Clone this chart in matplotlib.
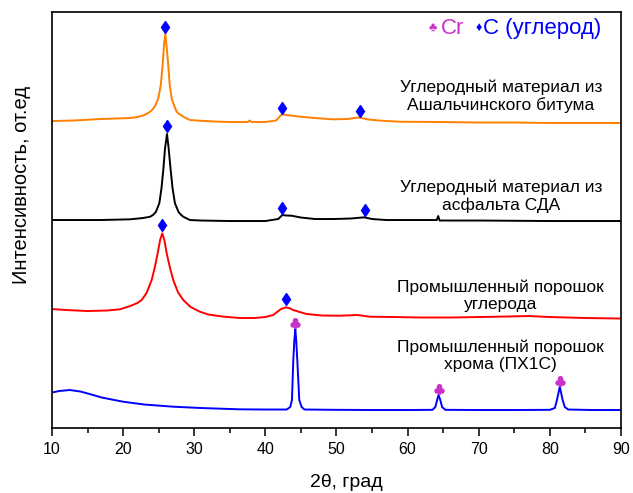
import matplotlib
matplotlib.use("Agg")
import matplotlib.pyplot as plt
from matplotlib.ticker import MultipleLocator

plt.rcParams['font.family'] = ['Liberation Sans', 'DejaVu Sans']

# Углеродный материал из Ашальчинского битума (оранжевая)
x_orange = [10.0, 13.0, 16.75, 19.0, 21.0, 22.0, 22.8, 23.4, 23.8, 24.2, 24.5, 24.95, 25.3,
            25.56, 25.75, 25.93, 26.1, 26.35, 26.55, 26.83, 27.2, 27.53, 27.9, 28.3, 28.8,
            29.4, 30.8, 33.0, 35.0, 37.5, 37.8, 38.1, 40.0, 41.5, 42.1, 42.4, 43.0, 44.9,
            47.0, 49.5, 51.5, 53.0, 53.3, 54.5, 56.0, 58.9, 65.0, 70.0, 75.0, 80.0, 85.0,
            90.0]
y_orange = [307, 307.5, 309, 309.5, 310, 311, 312.5, 314.5, 316.3, 319, 322, 329.7, 343,
            363, 383, 394, 383, 363, 343, 329.7, 322, 316.3, 314, 312, 310,
            308, 307.3, 306.5, 306, 306, 307.5, 306, 306, 307.5, 312, 313.7, 313, 311.3,
            310, 308.7, 309, 310.5, 310.3, 308.5, 307.5, 306.3, 306, 305.5, 305.5, 305, 305,
            305]

# Углеродный материал из асфальта СДА (чёрная)
x_black = [10.0, 13.0, 16.75, 21.0, 22.8, 23.8, 24.2, 24.6, 25.09, 25.4, 25.65, 25.9,
           26.17, 26.4, 26.69, 26.95, 27.29, 27.8, 28.1, 28.46, 29.4, 31.0, 35.0, 40.0,
           41.8, 42.4, 43.0, 43.7, 45.0, 47.0, 49.5, 52.0, 53.9, 55.0, 57.0, 61.8, 64.1,
           64.3, 64.5, 70.0, 80.0, 90.0]
y_black = [208, 208, 208, 208.7, 210, 211.3, 213, 216, 224.7, 240, 258, 280,
           294, 280, 258, 240, 224.7, 216, 213.5, 211.3, 208, 207.5, 207, 207,
           209, 213, 212.5, 212.3, 210.5, 209, 209, 209.5, 210.7, 209, 208, 208, 208,
           212, 207.5, 207.5, 207, 207]

# Промышленный порошок углерода (красная)
x_red = [10.0, 12.0, 15.0, 17.7, 19.56, 21.0, 22.0, 22.61, 23.3, 24.02, 24.5, 24.86,
         25.2, 25.51, 25.8, 26.13, 26.6, 27.05, 27.7, 28.46, 29.5, 30.8, 32.0, 34.0,
         36.4, 38.5, 40.0, 41.1, 42.2, 42.9, 43.5, 43.9, 45.8, 48.0, 50.5, 53.0, 54.7,
         58.0, 62.0, 66.0, 70.0, 74.0, 77.0, 80.0, 85.0, 90.0]
y_red = [119, 118, 117, 117.5, 118.7, 122, 125, 128, 135, 148, 162, 174.7,
         188, 194.7, 188, 174.7, 160, 148, 136, 128, 121, 116.3, 113.5, 111.5,
         110, 110, 111, 113, 119, 120.7, 119.5, 118, 114, 112.5, 112.3, 113, 111.3,
         111, 110.5, 110.5, 111, 111.5, 112, 111, 110, 109.5]

# Промышленный порошок хрома ПХ1С (синяя)
x_blue = [10.0, 11.0, 12.5, 14.0, 15.3, 17.0, 20.0, 23.0, 27.1, 31.0, 36.4, 40.0,
          43.0, 43.5, 43.74, 43.93, 44.08, 44.21, 44.34, 44.49, 44.77, 45.1, 45.5,
          50.0, 55.0, 60.0, 63.5, 63.9, 64.15, 64.35, 64.6, 64.85, 65.3, 70.0, 75.0,
          80.0, 80.7, 81.0, 81.4, 81.8, 82.1, 82.6, 86.0, 90.0]
y_blue = [35.5, 37, 38, 36.5, 34, 30.5, 26.3, 23.5, 21.3, 20, 18.7, 18.5,
          18.5, 21, 28, 68, 88, 98.7, 88, 68, 28, 21, 18.5,
          18.2, 18, 18, 18.2, 21, 28, 33, 28, 21, 18.2, 18, 18,
          18.2, 20, 28, 41.3, 28, 21, 18.5, 18, 18]

# отметки фаз
c_x = [25.93, 42.4, 53.3, 26.17, 42.4, 54.0, 25.51, 42.9]
c_y = [401.3, 320, 317, 302, 220, 218, 203, 128.7]
cr_x = [44.21, 64.35, 81.4]
cr_y = [104.7, 39, 47]

labels = ['Углеродный материал из\nАшальчинского битума',
          'Углеродный материал из\nасфальта СДА',
          'Промышленный порошок\nуглерода',
          'Промышленный порошок\nхрома (ПХ1С)']
label_y = [332, 232, 132, 72]

fig = plt.figure(figsize=(6.33, 4.93), dpi=100)
ax = fig.add_axes([0.0821, 0.1318, 0.8989, 0.8438])

ax.plot(x_orange, y_orange, color='#ff8000', lw=1.4)
ax.plot(x_black, y_black, color='black', lw=1.4)
ax.plot(x_red, y_red, color='#ff0000', lw=1.4)
ax.plot(x_blue, y_blue, color='#0000ff', lw=1.4)

ax.plot(c_x, c_y, 'd', color='#0000ff', ms=6, ls='none')
ax.plot(cr_x, cr_y, marker='$♣$', color='#c832c8', ms=7, ls='none')

for lab, ly in zip(labels, label_y):
    ax.text(73.1, ly, lab, ha='center', va='center', fontsize=12.5, linespacing=1.2)

# легенда фаз
ax.text(0.662, 0.9615, '♣', color='#c832c8', fontsize=9, ha='left', va='center',
        transform=ax.transAxes)
ax.text(0.6837, 0.9615, 'Cr', color='#c832c8', fontsize=16, ha='left', va='center',
        transform=ax.transAxes)
ax.text(0.745, 0.9615, '♦', color='#0000ff', fontsize=9, ha='left', va='center',
        transform=ax.transAxes)
ax.text(0.758, 0.9615, 'C (углерод)', color='#0000ff', fontsize=16, ha='left',
        va='center', transform=ax.transAxes)

ax.set_xlim(10, 90)
ax.set_ylim(0, 416)
ax.set_yticks([])
ax.xaxis.set_major_locator(MultipleLocator(10))
ax.xaxis.set_minor_locator(MultipleLocator(5))
ax.tick_params(axis='x', which='major', direction='out', length=6, width=1.1,
               labelsize=11.5, pad=4)
ax.tick_params(axis='x', which='minor', direction='out', length=3.5, width=1.1)
for sp in ax.spines.values():
    sp.set_linewidth(1.2)

ax.text(0.518, -0.13, '2θ, град', transform=ax.transAxes, ha='center', va='center',
        fontsize=14)
ax.text(-0.0527, 0.584, 'Интенсивность, от.ед', transform=ax.transAxes, rotation=90,
        ha='center', va='center', fontsize=14.5)

fig.savefig('out.png', dpi=100)
